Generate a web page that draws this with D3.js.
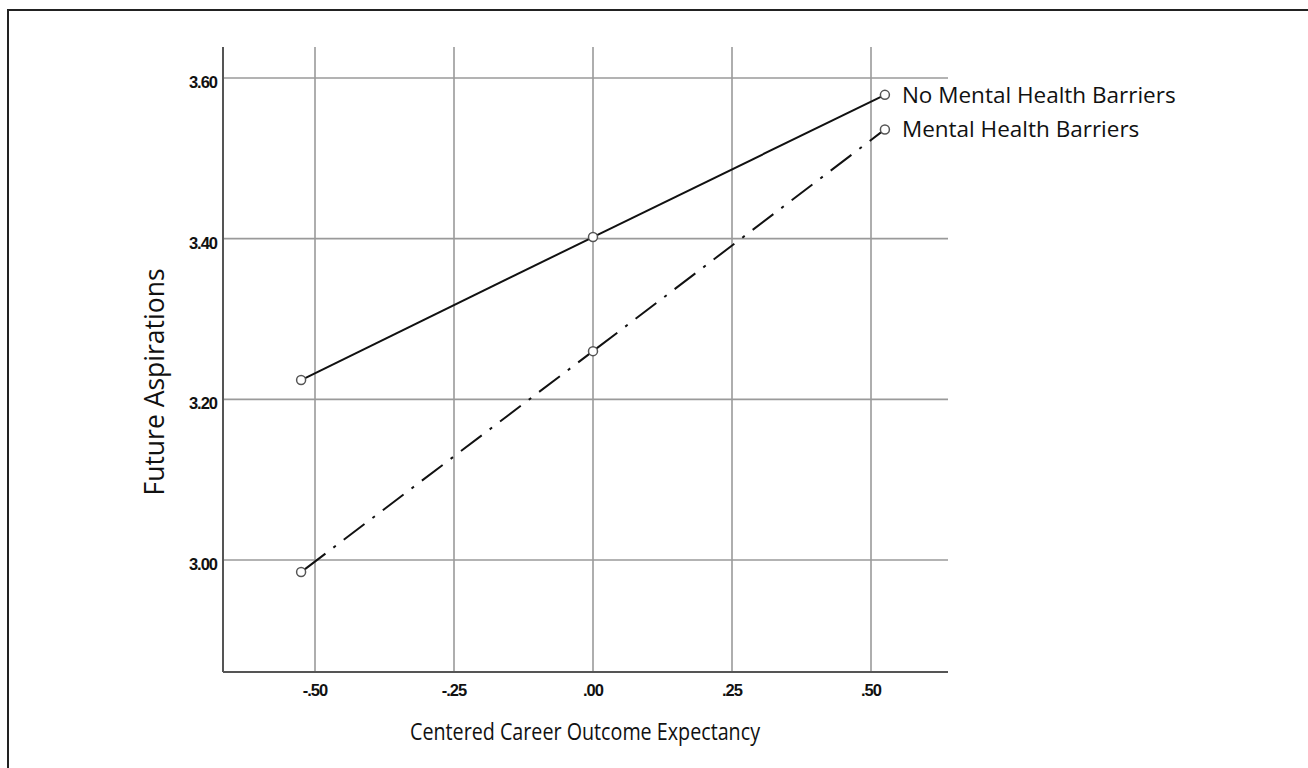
<!DOCTYPE html>
<html>
<head>
<meta charset="utf-8">
<script src="https://cdn.jsdelivr.net/npm/d3@7"></script>
<style>
  html, body { margin: 0; padding: 0; background: #fff; }
  #chart { width: 1308px; height: 768px; }
</style>
</head>
<body>
<div id="chart"></div>
<script>
// values
const xValues = [-0.525, 0, 0.525];
const noBarriers = [3.224, 3.402, 3.579];
const barriers = [2.985, 3.26, 3.536];
const seriesNames = ['No Mental Health Barriers', 'Mental Health Barriers'];
const xTicks = [-0.5, -0.25, 0, 0.25, 0.5];
const yTicks = [3.0, 3.2, 3.4, 3.6];

const W = 1308, H = 768;
const svg = d3.select('#chart').append('svg')
    .attr('width', W)
    .attr('height', H);

// frame (only top/left edges are visible in the crop)
svg.append('path')
    .attr('d', `M8,${H} L8,10 L${W},10`)
    .attr('fill', 'none')
    .attr('stroke', '#222')
    .attr('stroke-width', 2);

const x = d3.scaleLinear().domain([-0.5, 0.5]).range([315, 871]);
const y = d3.scaleLinear().domain([3.0, 3.6]).range([560, 78]);
const x0 = 223, x1 = 948, yTop = 47, yBot = 672;

// grid
svg.append('g').selectAll('line.v')
    .data(xTicks).join('line')
    .attr('x1', d => x(d)).attr('x2', d => x(d))
    .attr('y1', yTop).attr('y2', yBot)
    .attr('stroke', '#9a9a9a').attr('stroke-width', 1.6);
svg.append('g').selectAll('line.h')
    .data(yTicks).join('line')
    .attr('x1', x0).attr('x2', x1)
    .attr('y1', d => y(d)).attr('y2', d => y(d))
    .attr('stroke', '#9a9a9a').attr('stroke-width', 1.6);

// axis lines
svg.append('line')
    .attr('x1', x0).attr('x2', x0).attr('y1', yTop).attr('y2', yBot)
    .attr('stroke', '#555').attr('stroke-width', 2);
svg.append('line')
    .attr('x1', x0).attr('x2', x1).attr('y1', yBot).attr('y2', yBot)
    .attr('stroke', '#555').attr('stroke-width', 2);

// SPSS style: no leading zero, plain hyphen
const fmt = v => {
    const s = Math.abs(v).toFixed(2).replace(/^0\./, '.');
    return (v < 0 ? '-' : '') + s;
};

const tickFont = sel => sel
    .style('font-family', 'Liberation Sans, Arial, sans-serif')
    .style('font-size', '16.5px')
    .style('font-weight', 'bold')
    .style('letter-spacing', '-1px')
    .attr('fill', '#111');

// tick labels
svg.append('g').selectAll('text')
    .data(xTicks).join('text')
    .attr('x', d => x(d)).attr('y', yBot + 24)
    .attr('text-anchor', 'middle')
    .call(tickFont)
    .text(fmt);
svg.append('g').selectAll('text')
    .data(yTicks).join('text')
    .attr('x', x0 - 6).attr('y', d => y(d) + 10)
    .attr('text-anchor', 'end')
    .call(tickFont)
    .text(fmt);

// axis titles
svg.append('text')
    .attr('x', 585).attr('y', 740)
    .attr('text-anchor', 'middle')
    .attr('textLength', 350)
    .attr('lengthAdjust', 'spacingAndGlyphs')
    .style('font-family', 'Open Sans, sans-serif')
    .style('font-size', '24px')
    .attr('fill', '#111')
    .text('Centered Career Outcome Expectancy');
svg.append('text')
    .attr('transform', 'translate(164,382) rotate(-90)')
    .attr('text-anchor', 'middle')
    .style('font-family', 'Open Sans, sans-serif')
    .style('font-size', '26.5px')
    .attr('fill', '#111')
    .text('Future Aspirations');

// lines
const series = [
    {name: seriesNames[0], values: noBarriers, dash: null},
    {name: seriesNames[1], values: barriers, dash: '26,10,3,10'}
];
const r = 4.5;

series.forEach(s => {
    const pts = xValues.map((v, i) => [v, s.values[i]]);
    // segments between markers, trimmed at the circle edge
    for (let i = 0; i < pts.length - 1; i++) {
        const ax = x(pts[i][0]), ay = y(pts[i][1]);
        const bx = x(pts[i + 1][0]), by = y(pts[i + 1][1]);
        const len = Math.hypot(bx - ax, by - ay);
        const ux = (bx - ax) / len, uy = (by - ay) / len;
        svg.append('line')
            .attr('x1', ax + ux * r).attr('y1', ay + uy * r)
            .attr('x2', bx - ux * r).attr('y2', by - uy * r)
            .attr('stroke', '#111').attr('stroke-width', 2)
            .attr('stroke-dasharray', s.dash);
    }
    svg.append('g').selectAll('circle')
        .data(pts).join('circle')
        .attr('cx', d => x(d[0])).attr('cy', d => y(d[1]))
        .attr('r', r)
        .attr('fill', '#fff')
        .attr('stroke', '#555').attr('stroke-width', 1.5);

    const last = pts[pts.length - 1];
    svg.append('text')
        .attr('x', x(last[0]) + 17).attr('y', y(last[1]) + 8)
        .style('font-family', 'Open Sans, sans-serif')
        .style('font-size', '22.5px')
        .attr('fill', '#111')
        .text(s.name);
});
</script>
</body>
</html>
